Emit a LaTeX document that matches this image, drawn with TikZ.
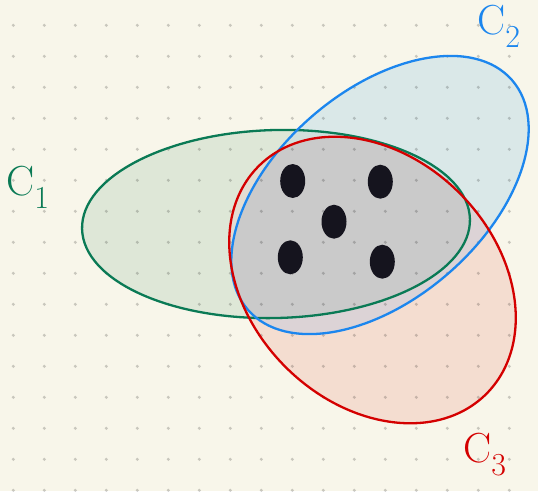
\documentclass[tikz,border=0pt]{standalone}
\usepackage{fontspec}
\usetikzlibrary{shapes.geometric}
\definecolor{bg}{HTML}{F8F6EA}
\definecolor{gstroke}{HTML}{0A7A55}
\definecolor{bstroke}{HTML}{1C86EE}
\definecolor{rstroke}{HTML}{D40000}
\definecolor{gfill}{HTML}{DEE7D7}
\definecolor{bfill}{HTML}{DAE8E8}
\definecolor{rfill}{HTML}{F4DDD0}
\definecolor{gbfill}{HTML}{D0E0DC}
\definecolor{grfill}{HTML}{E4DDD2}
\definecolor{brfill}{HTML}{DCD3D6}
\definecolor{allfill}{HTML}{CACACA}
\definecolor{blobc}{HTML}{15141E}
\newcommand\setlab[1]{\fontsize{42}{42}\selectfont C\raisebox{-13pt}{\fontsize{32}{32}\selectfont #1}}
\begin{document}
\begin{tikzpicture}[x=1pt,y=1pt,
  Gsh/.style={rotate around={1.5:(276,-224)}},
  Bsh/.style={rotate around={41:(380,-195)}},
  Rsh/.style={rotate around={-45:(372.5,-280)}},
  outline/.style={line width=2.3pt},
  blob/.style={ellipse, fill=blobc, draw=none, minimum width=25pt, minimum height=34pt, inner sep=0pt},
  lbl/.style={anchor=base west, inner sep=0pt}]
\def\G{(276,-224) ellipse [x radius=194pt, y radius=94pt]}
\def\B{(380,-195) ellipse [x radius=175pt, y radius=104pt]}
\def\R{(372.5,-280) ellipse [x radius=161pt, y radius=123pt]}
\fill[bg] (0,0) rectangle (538,-491);
\useasboundingbox (0,0) rectangle (538,-491);
% fills
\fill[gfill,Gsh] \G;
\fill[bfill,Bsh] \B;
\fill[rfill,Rsh] \R;
\begin{scope}\clip[Gsh] \G; \fill[gbfill,Bsh] \B; \end{scope}
\begin{scope}\clip[Gsh] \G; \fill[grfill,Rsh] \R; \end{scope}
\begin{scope}\clip[Bsh] \B; \fill[brfill,Rsh] \R; \end{scope}
\begin{scope}\clip[Gsh] \G; \clip[Bsh] \B; \fill[allfill,Rsh] \R; \end{scope}
% grid
\foreach \i in {0,...,16}
  \foreach \j in {0,...,15}
    \fill[black,opacity=0.19] ({13.3+31*\i},{-25.3-31*\j}) circle (1.7pt);
% outlines
\draw[outline,gstroke,Gsh] \G;
\draw[outline,bstroke,Bsh] \B;
\draw[outline,rstroke,Rsh] \R;
% dots
\node[blob] (d1) at (292.7,-181) {};
\node[blob] (d2) at (380.3,-181.7) {};
\node[blob] (d3) at (334,-221.7) {};
\node[blob] (d4) at (290.3,-257.3) {};
\node[blob] (d5) at (382.3,-261.7) {};
% labels
\node[lbl,text=gstroke] (c1) at (6,-195) {\setlab{1}};
\node[lbl,text=bstroke] (c2) at (477,-34) {\setlab{2}};
\node[lbl,text=rstroke] (c3) at (463,-462) {\setlab{3}};
\end{tikzpicture}
\end{document}
